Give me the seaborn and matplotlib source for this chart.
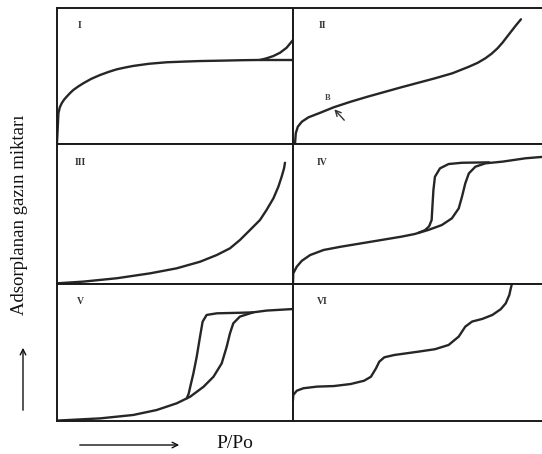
import numpy as np
import pandas as pd
import seaborn as sns
import matplotlib
matplotlib.use("Agg")
import matplotlib.pyplot as plt

# ---- data (relative pressure P/Po, relative adsorbed amount) ----
panel_labels = ["I", "II", "III", "IV", "V", "VI"]

I_x = [0.0, 0.002, 0.004, 0.006, 0.012, 0.02, 0.03, 0.041, 0.055, 0.069, 0.09, 0.111, 0.145, 0.182, 0.22,
       0.253, 0.29, 0.323, 0.39, 0.465, 0.54, 0.606, 0.7, 0.78, 0.86, 0.888, 0.917, 0.945, 0.973, 0.994, 1.0]
I_y = [0.007, 0.08, 0.15, 0.226, 0.27, 0.30, 0.326, 0.348, 0.374, 0.397, 0.423, 0.446, 0.479, 0.507, 0.531,
       0.549, 0.563, 0.574, 0.59, 0.601, 0.606, 0.61, 0.613, 0.616, 0.618, 0.63, 0.647, 0.671, 0.708, 0.752, 0.765]
I_des_x = [0.86, 1.0]
I_des_y = [0.618, 0.618]

II_x = [0.008, 0.011, 0.019, 0.035, 0.061, 0.108, 0.161, 0.228, 0.295, 0.428, 0.561, 0.63, 0.695, 0.73,
        0.761, 0.785, 0.808, 0.828, 0.855, 0.881, 0.901]
II_y = [0.005, 0.079, 0.127, 0.164, 0.196, 0.230, 0.270, 0.311, 0.348, 0.417, 0.483, 0.52, 0.568, 0.597,
        0.631, 0.664, 0.703, 0.745, 0.810, 0.872, 0.917]

III_x = [0.0, 0.111, 0.253, 0.394, 0.507, 0.606, 0.677, 0.733, 0.775, 0.818, 0.86, 0.888, 0.917, 0.938,
         0.952, 0.962, 0.966]
III_y = [0.005, 0.017, 0.041, 0.076, 0.112, 0.159, 0.207, 0.255, 0.314, 0.386, 0.457, 0.529, 0.612, 0.695,
         0.767, 0.826, 0.866]

IV_x = [0.0, 0.001, 0.015, 0.035, 0.068, 0.121, 0.188, 0.295, 0.428, 0.481, 0.535, 0.588, 0.628, 0.655,
        0.668, 0.681, 0.695, 0.721, 0.761, 0.828, 0.919, 1.0]
IV_y = [0.005, 0.076, 0.124, 0.166, 0.207, 0.243, 0.266, 0.298, 0.338, 0.357, 0.386, 0.421, 0.469, 0.54,
        0.624, 0.719, 0.79, 0.838, 0.862, 0.874, 0.898, 0.91]
IV_des_x = [0.495, 0.522, 0.538, 0.548, 0.551, 0.555, 0.561, 0.581, 0.615, 0.668, 0.775]
IV_des_y = [0.365, 0.385, 0.412, 0.457, 0.552, 0.671, 0.766, 0.826, 0.857, 0.866, 0.869]

V_x = [0.0, 0.182, 0.323, 0.422, 0.507, 0.564, 0.621, 0.663, 0.698, 0.719, 0.733, 0.747, 0.775, 0.831,
       0.888, 0.987, 1.0]
V_y = [0.003, 0.019, 0.044, 0.080, 0.129, 0.177, 0.250, 0.323, 0.421, 0.542, 0.640, 0.713, 0.762, 0.793,
       0.806, 0.816, 0.817]
V_des_x = [0.55, 0.558, 0.566, 0.578, 0.592, 0.606, 0.617, 0.634, 0.677, 0.775, 0.831]
V_des_y = [0.166, 0.20, 0.26, 0.348, 0.469, 0.615, 0.725, 0.774, 0.786, 0.79, 0.793]

VI_x = [0.0, 0.001, 0.015, 0.041, 0.095, 0.161, 0.228, 0.281, 0.308, 0.328, 0.341, 0.361, 0.401, 0.495,
        0.561, 0.615, 0.655, 0.681, 0.708, 0.748, 0.788, 0.821, 0.841, 0.855, 0.861, 0.865]
VI_y = [0.153, 0.19, 0.221, 0.239, 0.251, 0.255, 0.27, 0.294, 0.323, 0.384, 0.433, 0.465, 0.482, 0.506,
        0.524, 0.555, 0.616, 0.689, 0.726, 0.745, 0.774, 0.816, 0.859, 0.920, 0.969, 1.0]

B_label = "B"
B_pos = (0.136, 0.34)
B_arrow_tail = (0.21, 0.16)
B_arrow_head = (0.156, 0.27)

y_label = "Adsorplanan gazın miktarı"
x_label = "P/Po"

# ---- figure ----
sns.set_style("white")
plt.rcParams['font.family'] = ['Liberation Serif', 'DejaVu Serif']

W, H = 542, 454
fig = plt.figure(figsize=(W / 100, H / 100), dpi=100)

col_px = [(57, 293), (293, 546)]
row_px = [(8, 144), (144, 284), (284, 421)]

curves = [
    [(I_x, I_y), (I_des_x, I_des_y)],
    [(II_x, II_y)],
    [(III_x, III_y)],
    [(IV_x, IV_y), (IV_des_x, IV_des_y)],
    [(V_x, V_y), (V_des_x, V_des_y)],
    [(VI_x, VI_y)],
]

line_color = "#262626"
axes = []
for i in range(6):
    r, c = divmod(i, 2)
    x0, x1 = col_px[c]
    y0, y1 = row_px[r]
    ax = fig.add_axes([x0 / W, 1 - y1 / H, (x1 - x0) / W, (y1 - y0) / H])
    ax.set_xlim(0, 1)
    ax.set_ylim(0, 1)
    for xs, ys in curves[i]:
        df = pd.DataFrame({"x": xs, "y": ys})
        sns.lineplot(data=df, x="x", y="y", ax=ax, sort=False, estimator=None,
                     color=line_color, linewidth=1.7, solid_joinstyle="round",
                     solid_capstyle="round")
    ax.set_xticks([])
    ax.set_yticks([])
    ax.set_xlabel("")
    ax.set_ylabel("")
    for s in ax.spines.values():
        s.set_visible(True)
        s.set_color("#1a1a1a")
        s.set_linewidth(1.4)
    lx = 0.097 if c == 0 else 0.116
    ax.text(lx, 0.87, panel_labels[i], transform=ax.transAxes, fontsize=7,
            fontweight="bold", color="#333333", ha="center", va="center")
    axes.append(ax)

# B point annotation on panel II
axes[1].text(B_pos[0], B_pos[1], B_label, fontsize=6, color="#444444",
             ha="center", va="center", fontweight="bold")
axes[1].annotate("", xy=B_arrow_head, xytext=B_arrow_tail,
                 arrowprops=dict(arrowstyle="->", color="#333333", lw=1.0))

# axis labels with arrows
fig.text(20 / W, 1 - 215 / H, y_label, rotation=90, fontsize=13.5,
         ha="center", va="center", color="#111111")
fig.add_artist(matplotlib.patches.FancyArrowPatch(
    (23 / W, 1 - 413 / H), (23 / W, 1 - 345 / H), transform=fig.transFigure,
    arrowstyle="->", mutation_scale=10, color="#111111", lw=1.0))
fig.add_artist(matplotlib.patches.FancyArrowPatch(
    (77 / W, 1 - 445 / H), (182 / W, 1 - 445 / H), transform=fig.transFigure,
    arrowstyle="->", mutation_scale=10, color="#111111", lw=1.0))
fig.text(235 / W, 1 - 443 / H, x_label, fontsize=14,
         ha="center", va="center", color="#111111")

fig.savefig("out.png", dpi=100)
